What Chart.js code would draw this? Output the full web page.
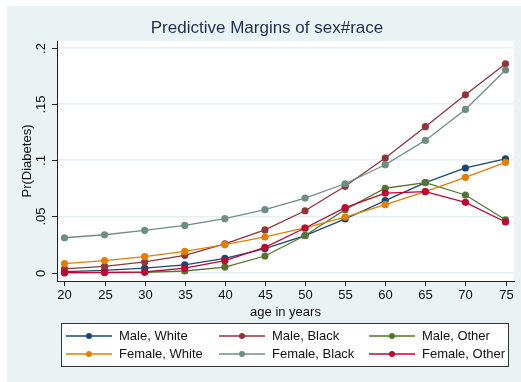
<!DOCTYPE html>
<html><head><meta charset="utf-8">
<script src="https://cdn.jsdelivr.net/npm/chart.js@4.4.1/dist/chart.umd.min.js"></script>
<style>html,body{margin:0;padding:0;background:#fff;}canvas{display:block;}</style>
</head><body>
<canvas id="c" width="521" height="382"></canvas>
<script>
const ages = [20,25,30,35,40,45,50,55,60,65,70,75];
const maleWhite   = [0.001,0.002,0.004,0.007,0.0127,0.0213,0.033,0.0477,0.064,0.080,0.093,0.101];
const maleBlack   = [0.0033,0.0056,0.0095,0.0154,0.0255,0.038,0.055,0.0767,0.1018,0.1297,0.158,0.1856];
const maleOther   = [0.0,0.0,0.0003,0.0015,0.005,0.0148,0.033,0.056,0.075,0.080,0.069,0.047];
const femaleWhite = [0.008,0.0107,0.0142,0.0189,0.0249,0.0317,0.0397,0.0494,0.0604,0.072,0.0847,0.098];
const femaleBlack = [0.031,0.0337,0.0376,0.042,0.048,0.056,0.0663,0.079,0.0959,0.1175,0.145,0.180];
const femaleOther = [0.0,0.0003,0.0006,0.004,0.0106,0.0225,0.0397,0.0577,0.0707,0.072,0.0625,0.045];
const seriesNames = ["Male, White","Male, Black","Male, Other","Female, White","Female, Black","Female, Other"];
const seriesData = [maleWhite,maleBlack,maleOther,femaleWhite,femaleBlack,femaleOther];
const seriesColors = ["#1a476f","#90353b","#55752f","#e37e00","#6e8e84","#c10534"];
const yTicks = [0,0.05,0.1,0.15,0.2];
const yTickLabels = ["0",".05",".1",".15",".2"];
const xTicks = [20,25,30,35,40,45,50,55,60,65,70,75];
const titleText = "Predictive Margins of sex#race";
const xTitle = "age in years";
const yTitle = "Pr(Diabetes)";

const FONT = '"Liberation Sans", Arial, sans-serif';
const BG = '#eaf2f3';

const deco = {
  id:'deco',
  beforeDraw(chart){
    const ctx = chart.ctx, a = chart.chartArea;
    ctx.save();
    ctx.fillStyle = '#fff'; ctx.fillRect(0,0,chart.width,chart.height);
    ctx.fillStyle = BG; ctx.fillRect(7,6,chart.width-7,chart.height-6);
    ctx.fillStyle = '#fff'; ctx.fillRect(a.left,a.top,a.right-a.left,a.bottom-a.top);
    ctx.restore();
  },
  afterDraw(chart){
    const ctx = chart.ctx, a = chart.chartArea;
    const xs = chart.scales.x, ys = chart.scales.y;
    ctx.save();
    ctx.strokeStyle = '#222'; ctx.lineWidth = 1; ctx.fillStyle = '#111';
    ctx.font = '13px ' + FONT;
    yTicks.forEach((v,i)=>{
      const py = Math.round(ys.getPixelForValue(v))+0.5;
      ctx.beginPath(); ctx.moveTo(a.left-5,py); ctx.lineTo(a.left,py); ctx.stroke();
      ctx.save(); ctx.translate(41,py); ctx.rotate(-Math.PI/2);
      ctx.textAlign='center'; ctx.textBaseline='middle';
      ctx.fillText(yTickLabels[i],0,0); ctx.restore();
    });
    xTicks.forEach(v=>{
      const px = Math.round(xs.getPixelForValue(v))+0.5;
      ctx.beginPath(); ctx.moveTo(px,a.bottom); ctx.lineTo(px,a.bottom+5); ctx.stroke();
      ctx.textAlign='center'; ctx.textBaseline='middle';
      ctx.fillText(String(v),px,295.5);
    });
    ctx.font = '13px ' + FONT;
    ctx.textAlign='center'; ctx.textBaseline='middle';
    ctx.fillText(xTitle,(a.left+a.right)/2,312);
    ctx.save(); ctx.translate(27,(a.top+a.bottom)/2); ctx.rotate(-Math.PI/2);
    ctx.fillText(yTitle,0,0); ctx.restore();
    ctx.fillStyle = '#1f2d4d';
    ctx.font = '17px ' + FONT;
    ctx.fillText(titleText,267,28);
    ctx.fillStyle='#fff'; ctx.fillRect(61,323,448,44);
    ctx.strokeStyle='#333'; ctx.strokeRect(61.5,323.5,447,43);
    const colLine=[66,219,369], rowY=[336,354];
    ctx.font = '13px ' + FONT; ctx.textAlign='left';
    seriesNames.forEach((n,i)=>{
      const c=i%3, r=Math.floor(i/3);
      const x0=colLine[c], y0=rowY[r];
      ctx.strokeStyle=seriesColors[i]; ctx.lineWidth=1.3;
      ctx.beginPath(); ctx.moveTo(x0,y0); ctx.lineTo(x0+46,y0); ctx.stroke();
      ctx.fillStyle=seriesColors[i];
      ctx.beginPath(); ctx.arc(x0+23,y0,3,0,Math.PI*2); ctx.fill();
      ctx.fillStyle='#111';
      ctx.fillText(n,x0+53,y0);
    });
    ctx.restore();
  }
};

new Chart(document.getElementById('c'),{
  type:'line',
  data:{
    labels: ages,
    datasets: seriesNames.map((n,i)=>({
      label:n,
      data: ages.map((x,j)=>({x:x,y:seriesData[i][j]})),
      borderColor: seriesColors[i],
      backgroundColor: seriesColors[i],
      borderWidth:1.3,
      pointRadius:3.6,
      pointBorderWidth:0,
      pointHoverRadius:3.6,
      tension:0,
      order:-i
    }))
  },
  options:{
    responsive:false,
    animation:false,
    events:[],
    layout:{padding:{left:57,right:7,top:41,bottom:101}},
    plugins:{legend:{display:false},title:{display:false},tooltip:{enabled:false}},
    scales:{
      x:{type:'linear',min:19.065,max:76.06,
        ticks:{display:false},grid:{display:false,drawTicks:false},
        border:{display:true,color:'#222',width:1},title:{display:false}},
      y:{type:'linear',min:-0.0074,max:0.2058,
        afterBuildTicks:(s)=>{s.ticks=yTicks.map(v=>({value:v}));},
        ticks:{display:false},
        grid:{display:true,drawTicks:false,color:'#e6eff1',lineWidth:1.5},
        border:{display:true,color:'#222',width:1},title:{display:false}}
    }
  },
  plugins:[deco]
});
</script>
</body></html>
